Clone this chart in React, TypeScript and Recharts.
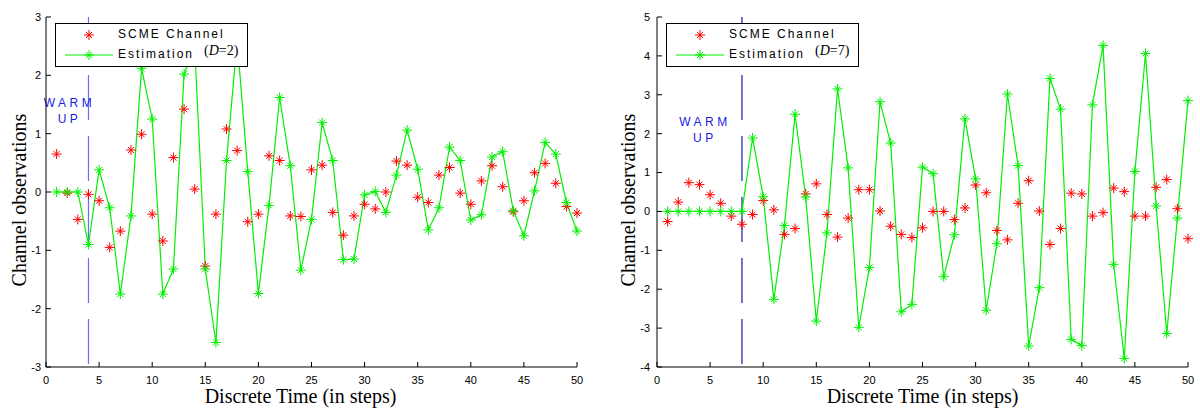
import React from 'react';
import { LineChart, Line, XAxis, YAxis, ReferenceLine, Legend, Label } from 'recharts';

const STEPS = [
  1, 2, 3, 4, 5, 6, 7, 8, 9, 10, 11, 12, 13, 14, 15, 16, 17, 18, 19, 20, 21, 22, 23, 24, 25,
  26, 27, 28, 29, 30, 31, 32, 33, 34, 35, 36, 37, 38, 39, 40, 41, 42, 43, 44, 45, 46, 47, 48, 49, 50,
];

// left panel, D=2
const SCME_D2 = [
  0.65, -0.02, -0.47, -0.04, -0.15, -0.95, -0.67, 0.72, 0.99, -0.38, -0.84, 0.59, 1.42, 0.05, -1.27,
  -0.38, 1.08, 0.71, -0.51, -0.38, 0.62, 0.54, -0.41, -0.42, 0.38, 0.46, -0.35, -0.74, -0.41, -0.21,
  -0.29, 0.0, 0.53, 0.46, -0.09, -0.18, 0.29, 0.42, -0.02, -0.21, 0.19, 0.45, 0.09, -0.34, -0.15,
  0.33, 0.49, 0.15, -0.25, -0.36,
];
const EST_D2 = [
  0, 0, 0, -0.9, 0.38, -0.27, -1.75, -0.41, 2.12, 1.25, -1.75, -1.32, 2.02, 2.5, -1.32,
  -2.58, 0.54, 2.6, 0.35, -1.74, -0.23, 1.62, 0.45, -1.34, -0.47, 1.19, 0.54, -1.16, -1.15, -0.05,
  0.01, -0.35, 0.29, 1.06, 0.39, -0.65, -0.27, 0.77, 0.54, -0.48, -0.39, 0.6, 0.69, -0.32, -0.75,
  0.02, 0.85, 0.65, -0.18, -0.67,
];

// right panel, D=7
const SCME_D7 = [
  -0.26, 0.24, 0.74, 0.69, 0.43, 0.21, -0.12, -0.33, -0.08, 0.28, 0.04, -0.59, -0.44, 0.45, 0.71,
  -0.08, -0.66, -0.17, 0.56, 0.56, 0.01, -0.38, -0.59, -0.67, -0.42, 0.0, 0.0, -0.21, 0.09, 0.68,
  0.48, -0.49, -0.73, 0.21, 0.79, 0.01, -0.85, -0.44, 0.47, 0.45, -0.12, -0.03, 0.6, 0.51, -0.12,
  -0.12, 0.62, 0.82, 0.07, -0.7,
];
const EST_D7 = [
  0, 0, 0, 0, 0, 0, 0, 0, 1.89, 0.38, -2.26, -0.36, 2.5, 0.37, -2.82,
  -0.55, 3.15, 1.12, -2.98, -1.44, 2.82, 1.76, -2.58, -2.39, 1.14, 0.97, -1.68, -0.6, 2.38, 0.84,
  -2.54, -0.83, 3.02, 1.18, -3.46, -1.96, 3.42, 2.63, -3.29, -3.45, 2.74, 4.27, -1.36, -3.78, 1.03,
  4.06, 0.14, -3.14, -0.17, 2.85,
];

const X_TICKS = [0, 5, 10, 15, 20, 25, 30, 35, 40, 45, 50];
const Y_TICKS_D2 = [-3, -2, -1, 0, 1, 2, 3];
const Y_TICKS_D7 = [-4, -3, -2, -1, 0, 1, 2, 3, 4, 5];

const RED = '#ff0000';
const GREEN = '#00f000';
const SANS = 'Arial, "Liberation Sans", sans-serif';
const SERIF = '"Times New Roman", "Liberation Serif", serif';

function Star({ cx, cy, color }: { cx: number; cy: number; color: string }) {
  if (cx == null || cy == null) return null;
  return (
    <g stroke={color} strokeWidth={1}>
      <line x1={cx - 5} y1={cy} x2={cx + 5} y2={cy} />
      <line x1={cx} y1={cy - 5} x2={cx} y2={cy + 5} />
      <line x1={cx - 3} y1={cy - 3} x2={cx + 3} y2={cy + 3} />
      <line x1={cx - 3} y1={cy + 3} x2={cx + 3} y2={cy - 3} />
    </g>
  );
}

const redDot = (p: any) => <Star key={'r' + p.index} cx={p.cx} cy={p.cy} color={RED} />;
const greenDot = (p: any) => <Star key={'g' + p.index} cx={p.cx} cy={p.cy} color={GREEN} />;

function LegendBox({ d }: { d: number }) {
  return (
    <div
      style={{
        position: 'relative', width: 193, height: 44, boxSizing: 'border-box',
        border: '1px solid #000', background: '#fff', fontFamily: SANS, fontSize: 12,
        letterSpacing: 2, color: '#000',
      }}
    >
      <svg width={60} height={44} style={{ position: 'absolute', left: 0, top: 0 }}>
        <Star cx={33} cy={11} color={RED} />
        <line x1={9} y1={31} x2={57} y2={31} stroke={GREEN} strokeWidth={1.2} />
        <Star cx={33} cy={31} color={GREEN} />
      </svg>
      <span style={{ position: 'absolute', left: 62, top: 3, lineHeight: '14px' }}>SCME Channel</span>
      <span style={{ position: 'absolute', left: 62, top: 23, lineHeight: '14px' }}>Estimation</span>
      <span
        style={{
          position: 'absolute', left: 148, top: 20, lineHeight: '14px', fontFamily: SERIF,
          fontSize: 14, letterSpacing: 0,
        }}
      >
        (<i>D</i>=<span>{d}</span>)
      </span>
    </div>
  );
}

function warmLabel(dx: number, dy: number) {
  return (props: any) => {
    const vb = props.viewBox || {};
    const x = vb.x + dx;
    const y = vb.y + dy;
    const st = { fontFamily: SANS, fontSize: 12, letterSpacing: 3.5 };
    return (
      <g fill="#1a1ae6">
        <text x={x + 2} y={y} textAnchor="middle" style={st}>WARM</text>
        <text x={x + 2} y={y + 16} textAnchor="middle" style={st}>UP</text>
      </g>
    );
  };
}

function xLabel(shift: number) {
  return (props: any) => {
    const vb = props.viewBox || {};
    return (
      <text
        x={vb.x + vb.width / 2 + shift}
        y={vb.y + vb.height - 7}
        textAnchor="middle"
        style={{ fontFamily: SERIF, fontSize: 20 }}
        fill="#000"
      >
        Discrete Time (in steps)
      </text>
    );
  };
}

function yLabel(cxOff: number) {
  return (props: any) => {
    const vb = props.viewBox || {};
    const cx = vb.x + cxOff;
    const cy = vb.y + vb.height / 2 + 8;
    return (
      <text
        x={cx}
        y={cy}
        transform={`rotate(-90 ${cx} ${cy})`}
        textAnchor="middle"
        dominantBaseline="central"
        style={{ fontFamily: SERIF, fontSize: 20 }}
        fill="#000"
      >
        Channel observations
      </text>
    );
  };
}

type PanelProps = {
  scme: number[];
  est: number[];
  d: number;
  yTicks: number[];
  yAxisWidth: number;
  rightMargin: number;
  warmAt: number;
  warmColor: string;
  warmDx: number;
  warmDy: number;
  legendLeft: number;
  xLabelShift: number;
  yLabelX: number;
  tickGap: number;
};

function Panel(p: PanelProps) {
  const data = STEPS.map((s, i) => ({ step: s, scme: p.scme[i], est: p.est[i] }));
  const yDomain = [p.yTicks[0], p.yTicks[p.yTicks.length - 1]];
  const tickStyle = { fontSize: 11, fill: '#000', fontFamily: SANS };
  return (
    <LineChart
      width={600 - (p.d === 2 ? 0 : 0)}
      height={410}
      data={data}
      margin={{ top: 17, right: p.rightMargin, left: 0, bottom: 0 }}
      style={{ fontFamily: SANS }}
    >
      <XAxis
        dataKey="step"
        type="number"
        domain={[0, 50]}
        ticks={X_TICKS}
        height={43}
        tickSize={-5}
        tickMargin={14}
        tick={tickStyle}
        axisLine={{ stroke: '#000' }}
        tickLine={{ stroke: '#000' }}
      >
        <Label content={xLabel(p.xLabelShift)} />
      </XAxis>
      <XAxis
        xAxisId="top"
        orientation="top"
        type="number"
        domain={[0, 50]}
        allowDataOverflow
        ticks={X_TICKS}
        height={0}
        tickSize={-5}
        tick={false}
        axisLine={{ stroke: '#000' }}
        tickLine={{ stroke: '#000' }}
      />
      <YAxis
        type="number"
        domain={yDomain}
        ticks={p.yTicks}
        width={p.yAxisWidth}
        tickSize={-5}
        tickMargin={p.tickGap}
        tick={tickStyle}
        axisLine={{ stroke: '#000' }}
        tickLine={{ stroke: '#000' }}
      >
        <Label content={yLabel(p.yLabelX)} />
      </YAxis>
      <YAxis
        yAxisId="r"
        orientation="right"
        type="number"
        domain={yDomain}
        allowDataOverflow
        ticks={p.yTicks}
        width={0}
        tickSize={-5}
        tick={false}
        axisLine={{ stroke: '#000' }}
        tickLine={{ stroke: '#000' }}
      />
      <ReferenceLine
        x={p.warmAt}
        stroke={p.warmColor}
        strokeWidth={1.2}
        strokeDasharray="45 16"
        strokeDashoffset={58}
        label={{ content: warmLabel(p.warmDx, p.warmDy) } as any}
      />
      <Line
        dataKey="scme"
        stroke="none"
        dot={redDot}
        activeDot={false}
        legendType="none"
        isAnimationActive={false}
      />
      <Line
        dataKey="est"
        stroke={GREEN}
        strokeWidth={1.2}
        dot={greenDot}
        activeDot={false}
        legendType="none"
        isAnimationActive={false}
      />
      <Legend
        layout="horizontal"
        verticalAlign="middle"
        align="center"
        content={() => <LegendBox d={p.d} />}
        wrapperStyle={{ left: p.legendLeft, top: 23, width: 193, height: 44 }}
      />
    </LineChart>
  );
}

export default function App() {
  return (
    <div style={{ position: 'absolute', left: 0, top: 0, width: 1200, height: 410, background: '#fff' }}>
      <div style={{ position: 'absolute', left: 0, top: 0 }}>
        <Panel
          scme={SCME_D2}
          est={EST_D2}
          d={2}
          yTicks={Y_TICKS_D2}
          yAxisWidth={46}
          rightMargin={23}
          warmAt={4}
          warmColor="#6b6bff"
          warmDx={-21}
          warmDy={90}
          legendLeft={55}
          xLabelShift={-11}
          yLabelX={19}
          tickGap={10}
        />
      </div>
      <div style={{ position: 'absolute', left: 600, top: 0 }}>
        <Panel
          scme={SCME_D7}
          est={EST_D7}
          d={7}
          yTicks={Y_TICKS_D7}
          yAxisWidth={57}
          rightMargin={12}
          warmAt={8}
          warmColor="#1a1aa8"
          warmDx={-39}
          warmDy={109}
          legendLeft={66}
          xLabelShift={0}
          yLabelX={28}
          tickGap={12}
        />
      </div>
    </div>
  );
}
